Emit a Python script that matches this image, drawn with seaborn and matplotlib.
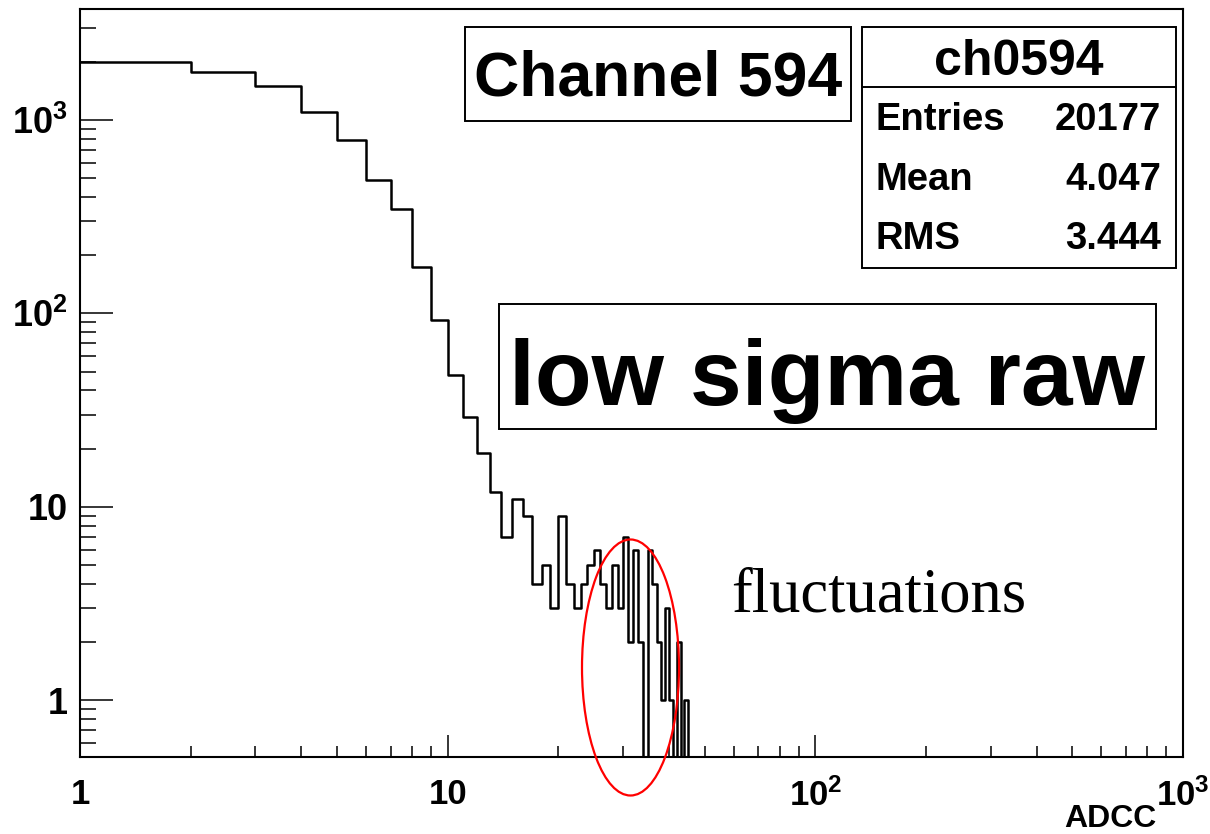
import numpy as np
import pandas as pd
import matplotlib
matplotlib.use("Agg")
import matplotlib.pyplot as plt
import matplotlib.ticker as mticker
from matplotlib.patches import Rectangle, Ellipse
from matplotlib.lines import Line2D
import seaborn as sns

# ---------------- data ----------------
bin_low_edges = list(range(1, 47))          # ADCC bins of width 1, starting at 1
counts = [1990, 1767, 1489, 1097, 789, 490, 346, 174, 92, 48,
          29, 19, 12, 7, 11, 9, 4, 5, 3, 9,
          4, 3, 4, 5, 6, 4, 3, 5, 3, 7,
          2, 6, 2, 0, 6, 4, 2, 1, 3, 1,
          0, 2, 0, 1, 0, 0]
x_tick_values = [1, 10, 100, 1000]
x_tick_labels = ["1", "10", r"$\mathbf{10^{2}}$", r"$\mathbf{10^{3}}$"]
y_tick_values = [1, 10, 100, 1000]
y_tick_labels = ["1", "10", r"$\mathbf{10^{2}}$", r"$\mathbf{10^{3}}$"]
title_text = "Channel 594"
stats_name = "ch0594"
stats_rows = [("Entries", "20177"), ("Mean", "4.047"), ("RMS", "3.444")]
note_text = "low sigma raw"
annot_text = "fluctuations"
x_label = "ADCC"

# ---------------- style ----------------
sns.set_style("white")
plt.rcParams["font.family"] = ["Liberation Sans", "DejaVu Sans"]
plt.rcParams["font.weight"] = "bold"
plt.rcParams["text.color"] = "black"
plt.rcParams["xtick.color"] = "black"
plt.rcParams["ytick.color"] = "black"
plt.rcParams["mathtext.fontset"] = "custom"
plt.rcParams["mathtext.rm"] = "Liberation Sans:bold"
plt.rcParams["mathtext.bf"] = "Liberation Sans:bold"
plt.rcParams["mathtext.it"] = "Liberation Sans:bold"

W, H = 1210, 834
fig = plt.figure(figsize=(W / 100, H / 100), dpi=100)
fig.patch.set_facecolor("white")

def fx(px):
    return px / W

def fy(py):
    return 1 - py / H

ax_l, ax_r, ax_t, ax_b = 80, 1183, 9, 757
ax = fig.add_axes([fx(ax_l), fy(ax_b), fx(ax_r - ax_l), (ax_b - ax_t) / H])
ax.set_facecolor("white")

# histogram outline (zero bins drop below the visible range, as in ROOT)
floor = 1e-2
edges = bin_low_edges + [bin_low_edges[-1] + 1]
vals = [c if c > 0 else floor for c in counts]
df = pd.DataFrame({"x": edges, "y": vals + [vals[-1]]})
sns.lineplot(data=df, x="x", y="y", drawstyle="steps-post", color="black",
             linewidth=1.8, estimator=None, sort=True, ax=ax)

ax.set_xscale("log")
ax.set_yscale("log")
ax.set_xlim(1, 1000)
ax.set_ylim(0.51, 3740)

ax.xaxis.set_major_locator(mticker.FixedLocator(x_tick_values))
ax.xaxis.set_major_formatter(mticker.FixedFormatter(x_tick_labels))
ax.yaxis.set_major_locator(mticker.FixedLocator(y_tick_values))
ax.yaxis.set_major_formatter(mticker.FixedFormatter(y_tick_labels))
ax.xaxis.set_minor_locator(mticker.LogLocator(base=10, subs=np.arange(2, 10), numticks=20))
ax.yaxis.set_minor_locator(mticker.LogLocator(base=10, subs=np.arange(2, 10), numticks=20))
ax.xaxis.set_minor_formatter(mticker.NullFormatter())
ax.yaxis.set_minor_formatter(mticker.NullFormatter())

ax.tick_params(axis="x", which="both", bottom=True, top=False)
ax.tick_params(axis="y", which="both", left=True, right=False)
ax.tick_params(axis="x", which="major", direction="in", length=15.8, width=1.1,
               labelsize=25, pad=15, color="black", labelcolor="black")
ax.tick_params(axis="x", which="minor", direction="in", length=7.9, width=1.1, color="black")
ax.tick_params(axis="y", which="major", direction="in", length=23.8, width=1.1,
               labelsize=26, pad=9, color="black", labelcolor="black")
ax.tick_params(axis="y", which="minor", direction="in", length=11.5, width=1.1, color="black")
for lab in ax.get_xticklabels() + ax.get_yticklabels():
    lab.set_fontweight("bold")
ax.set_xlabel("")
ax.set_ylabel("")
for s in ax.spines.values():
    s.set_color("black")
    s.set_linewidth(1.5)
    s.set_visible(True)

# ---------------- boxes and texts ----------------
def box(l, t, r, b):
    fig.patches.append(Rectangle((fx(l), fy(b)), fx(r - l), (b - t) / H,
                                 transform=fig.transFigure, fill=True,
                                 facecolor="white", edgecolor="black",
                                 linewidth=1.4, zorder=5))

# Channel title box
box(465, 27, 851, 121)
fig.text(fx(658), fy(96), title_text, ha="center", va="baseline",
         fontsize=45, fontweight="bold", color="black", zorder=6)

# stats box
box(862, 27, 1176, 268)
fig.add_artist(Line2D([fx(862), fx(1176)], [fy(87), fy(87)],
                      transform=fig.transFigure, color="black", linewidth=1.4, zorder=6))
fig.text(fx(1019), fy(75), stats_name, ha="center", va="baseline",
         fontsize=36, fontweight="bold", color="black", zorder=6)
row_baselines = [130, 190, 249]
for (lab, val), yb in zip(stats_rows, row_baselines):
    fig.text(fx(876), fy(yb), lab, ha="left", va="baseline",
             fontsize=27.5, fontweight="bold", color="black", zorder=6)
    fig.text(fx(1161), fy(yb), val, ha="right", va="baseline",
             fontsize=27.5, fontweight="bold", color="black", zorder=6)

# "low sigma raw" box
box(499, 304, 1156, 429)
fig.text(fx(827), fy(405), note_text, ha="center", va="baseline",
         fontsize=67, fontweight="bold", color="black", zorder=6)

# annotation
fig.text(fx(879), fy(612), annot_text, ha="center", va="baseline",
         fontsize=45, fontweight="normal", color="black",
         family=["Liberation Serif", "DejaVu Serif"], zorder=6)
fig.patches.append(Ellipse((fx(630.5), fy(667.5)), fx(97), 256 / H,
                           transform=fig.transFigure, fill=False,
                           edgecolor="#ff0000", linewidth=1.6, zorder=7))

# axis title
fig.text(fx(1156), fy(827), x_label, ha="right", va="baseline",
         fontsize=23, fontweight="bold", color="black")

fig.savefig("out.png", dpi=100, facecolor="white")
